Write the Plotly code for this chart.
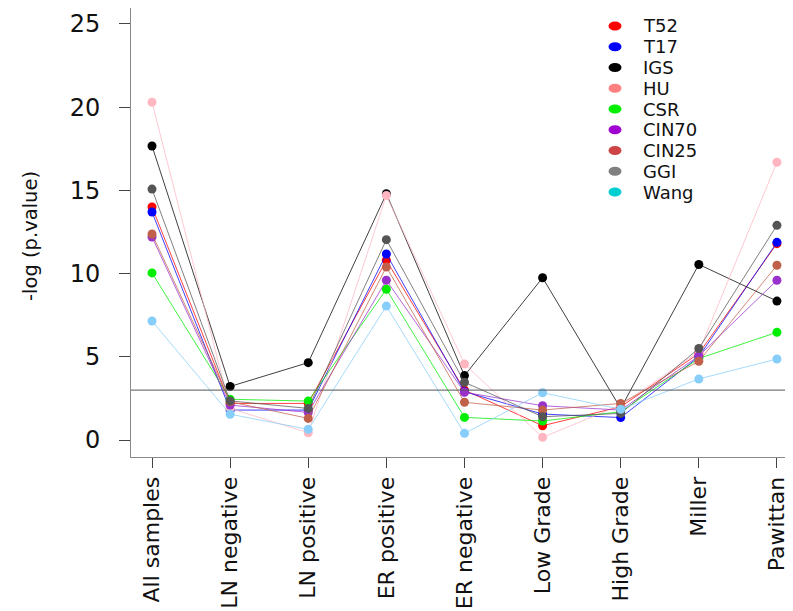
import plotly.graph_objects as go

categories = ["All samples", "LN negative", "LN positive", "ER positive", "ER negative",
              "Low Grade", "High Grade", "Miller", "Pawittan"]

T52 = [14.0, 2.2, 2.2, 10.8, 3.0, 0.86, 2.0, 5.2, 11.8]
T17 = [13.7, 1.8, 1.8, 11.18, 2.9, 1.56, 1.35, 5.0, 11.88]
IGS = [17.67, 3.22, 4.65, 14.8, 3.87, 9.75, 1.9, 10.55, 8.35]
HU = [20.3, 1.9, 0.44, 14.7, 4.57, 0.16, 2.1, 5.3, 16.69]
CSR = [10.04, 2.45, 2.34, 9.06, 1.36, 1.14, 1.7, 4.9, 6.47]
CIN70 = [12.2, 2.1, 1.66, 9.6, 2.87, 2.06, 1.8, 5.05, 9.6]
CIN25 = [12.38, 2.3, 1.3, 10.4, 2.27, 1.8, 2.2, 4.73, 10.5]
GGI = [15.08, 2.35, 1.9, 12.04, 3.47, 1.4, 1.6, 5.5, 12.9]
Wang = [7.15, 1.55, 0.64, 8.05, 0.4, 2.84, 1.85, 3.67, 4.87]

series_names = ["T52", "T17", "IGS", "HU", "CSR", "CIN70", "CIN25", "GGI", "Wang"]
series_values = [T52, T17, IGS, HU, CSR, CIN70, CIN25, GGI, Wang]
threshold = 3

plot_colors = ["#FF0000", "#0000FF", "#000000", "#FFB6C1", "#00EE00",
               "#9932CC", "#C0604A", "#555555", "#87CEFA"]
legend_colors = ["#FF0000", "#0000FF", "#000000", "#FF8080", "#00EE00",
                 "#A000D0", "#CC4444", "#808080", "#00CED1"]

def rgba(hexc, a):
    h = hexc.lstrip("#")
    r, g, b = int(h[0:2], 16), int(h[2:4], 16), int(h[4:6], 16)
    return f"rgba({r},{g},{b},{a})"

fig = go.Figure()
for name, vals, col in zip(series_names, series_values, plot_colors):
    fig.add_trace(go.Scatter(
        x=categories, y=vals, mode="lines+markers", name=name, showlegend=False,
        line=dict(color=rgba(col, 0.75), width=1),
        marker=dict(color=col, size=9, line=dict(width=0)),
    ))

# layout geometry (pixels); page body adds an 8px offset
O = 8
W, H = 793 - O, 611 - O
L, R, T, B = 131 - O, 2, 0, 154
PW, PH = W - L - R, H - T - B

def px(xp):
    return (xp - O - L) / PW

def py(yp):
    return (T + PH - (yp - O)) / PH

shapes = [dict(type="line", xref="paper", yref="y", x0=0, x1=1, y0=threshold, y1=threshold,
               line=dict(color="#555555", width=1))]
annotations = [dict(text="-log (p.value)", xref="paper", yref="paper", x=px(30), y=py(236),
                    xanchor="center", yanchor="middle", textangle=-90, showarrow=False,
                    font=dict(family="DejaVu Sans", size=19.5, color="#111"))]

# manual legend
for i, (name, col) in enumerate(zip(series_names, legend_colors)):
    cy = 26 + 20.75 * i
    cx = 615
    shapes.append(dict(type="circle", xref="paper", yref="paper",
                       x0=px(cx - 6.5), x1=px(cx + 6.5), y0=py(cy + 4.5), y1=py(cy - 4.5),
                       fillcolor=col, line=dict(width=0)))
    annotations.append(dict(text=name, xref="paper", yref="paper", x=px(641), y=py(cy),
                            xanchor="left", yanchor="middle", showarrow=False,
                            font=dict(family="DejaVu Sans", size=18, color="#111")))

fig.update_layout(
    width=W, height=H,
    margin=dict(l=L, r=R, t=T, b=B, autoexpand=False),
    plot_bgcolor="white", paper_bgcolor="white",
    shapes=shapes, annotations=annotations,
    xaxis=dict(type="category", range=[-0.269, 8.18], showgrid=False, zeroline=False,
               automargin=False,
               showline=True, linecolor="#888888", linewidth=1,
               ticks="outside", ticklen=10, tickcolor="#444444", tickangle=-90,
               tickfont=dict(family="DejaVu Sans", size=22, color="#111")),
    yaxis=dict(range=[-1.02, 25.96], showgrid=False, zeroline=False,
               automargin=False,
               showline=True, linecolor="#888888", linewidth=1,
               tickvals=[0, 5, 10, 15, 20, 25], ticks="outside", ticklen=11, tickcolor="#444444",
               ticklabelstandoff=14,
               tickfont=dict(family="DejaVu Sans", size=24, color="#111")),
)

fig.write_html("out.html")
